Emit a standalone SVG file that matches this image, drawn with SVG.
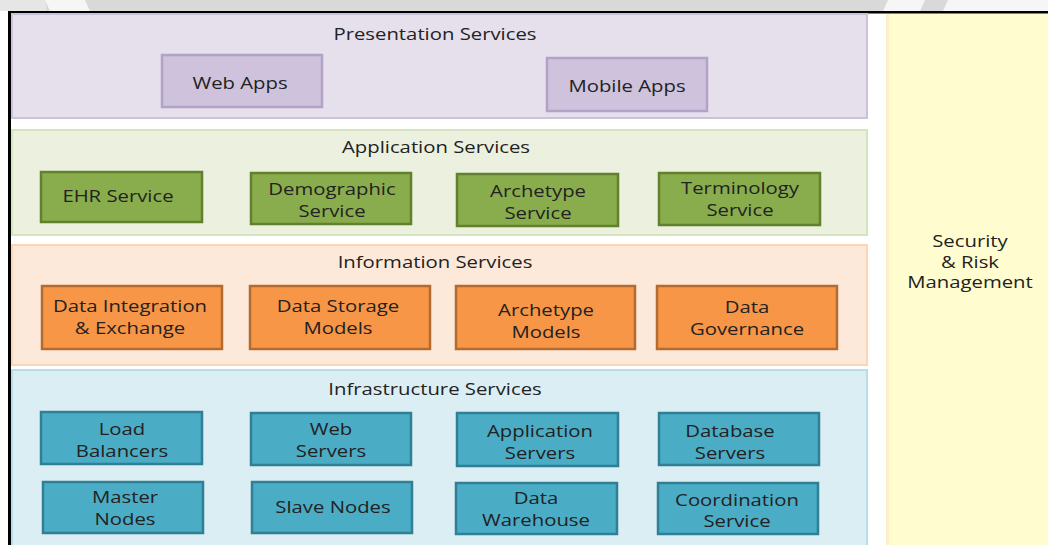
<svg xmlns="http://www.w3.org/2000/svg" width="1048" height="545" viewBox="0 0 1048 545">
<style>
.t{font-family:"Open Sans","Liberation Sans",sans-serif;font-size:16px;fill:#222;text-anchor:middle}
.pres{fill:#e5e0ec;stroke:#cbc2d9;stroke-width:2}
.app{fill:#ebf1de;stroke:#d6e3bf;stroke-width:2}
.info{fill:#fde9d9;stroke:#fbd5b6;stroke-width:2}
.infra{fill:#dbeef4;stroke:#b9dde8;stroke-width:2}
.bp{fill:#cec2dd;stroke:#b2a2c6;stroke-width:2.5}
.bg{fill:#89ad4d;stroke:#62812f;stroke-width:2.5}
.bo{fill:#f79646;stroke:#b46b32;stroke-width:2.5}
.bb{fill:#4bacc6;stroke:#2f7f95;stroke-width:2.5}
</style>
<rect x="0" y="0" width="1048" height="545" fill="#ffffff"/>
<g id="watermark">
<rect x="0" y="0" width="1048" height="11" fill="#d9d9d9"/>
<rect x="0" y="0" width="46" height="11" fill="#e6e6e6"/>
<polygon points="45,0 85,0 90,11 50,11" fill="#f6f6f6"/>
<polygon points="888,0 925,0 920,11 883,11" fill="#f6f6f6"/>
<polygon points="948,0 1048,0 1048,11 943,11" fill="#f6f6f6"/>
</g>
<g id="frame">
<rect x="8" y="11" width="1040" height="2.5" fill="#000"/>
<rect x="8" y="11" width="3" height="534" fill="#000"/>
</g>
<g id="security">
<rect x="886" y="14" width="162" height="531" fill="#fffdcf"/>
<rect x="886" y="14" width="3" height="531" fill="#fdf0c8"/>
<text class="t" transform="translate(970 0) scale(1.27 1)"><tspan x="0" y="247">Security</tspan><tspan x="0" y="268">&amp; Risk</tspan><tspan x="0" y="288">Management</tspan></text>
</g>
<g id="presentation">
<rect class="pres" x="12" y="14" width="855" height="104"/>
<text class="t" transform="translate(435 40) scale(1.27 1)">Presentation Services</text>
</g>
<g id="web-apps">
<rect class="bp" x="162" y="55" width="160" height="52"/>
<text class="t" transform="translate(240 89) scale(1.27 1)">Web Apps</text>
</g>
<g id="mobile-apps">
<rect class="bp" x="547" y="58" width="160" height="53"/>
<text class="t" transform="translate(627 92) scale(1.27 1)">Mobile Apps</text>
</g>
<g id="application">
<rect class="app" x="12" y="130" width="855" height="105"/>
<text class="t" transform="translate(436 153) scale(1.27 1)">Application Services</text>
</g>
<g id="ehr-service">
<rect class="bg" x="41" y="172" width="161" height="50"/>
<text class="t" transform="translate(118 202) scale(1.27 1)">EHR Service</text>
</g>
<g id="demographic-service">
<rect class="bg" x="251" y="173" width="160" height="51"/>
<text class="t" transform="translate(332 0) scale(1.27 1)"><tspan x="0" y="195">Demographic</tspan><tspan x="0" y="217">Service</tspan></text>
</g>
<g id="archetype-service">
<rect class="bg" x="457" y="174" width="161" height="52"/>
<text class="t" transform="translate(538 0) scale(1.27 1)"><tspan x="0" y="197">Archetype</tspan><tspan x="0" y="219">Service</tspan></text>
</g>
<g id="terminology-service">
<rect class="bg" x="659" y="173" width="161" height="52"/>
<text class="t" transform="translate(740 0) scale(1.27 1)"><tspan x="0" y="194">Terminology</tspan><tspan x="0" y="216">Service</tspan></text>
</g>
<g id="information">
<rect class="info" x="12" y="245" width="855" height="120"/>
<text class="t" transform="translate(435 268) scale(1.27 1)">Information Services</text>
</g>
<g id="data-integration">
<rect class="bo" x="42" y="286" width="180" height="63"/>
<text class="t" transform="translate(130 0) scale(1.27 1)"><tspan x="0" y="312">Data Integration</tspan><tspan x="0" y="334">&amp; Exchange</tspan></text>
</g>
<g id="data-storage">
<rect class="bo" x="250" y="286" width="180" height="63"/>
<text class="t" transform="translate(338 0) scale(1.27 1)"><tspan x="0" y="312">Data Storage</tspan><tspan x="0" y="334">Models</tspan></text>
</g>
<g id="archetype-models">
<rect class="bo" x="456" y="286" width="179" height="63"/>
<text class="t" transform="translate(546 0) scale(1.27 1)"><tspan x="0" y="316">Archetype</tspan><tspan x="0" y="338">Models</tspan></text>
</g>
<g id="data-governance">
<rect class="bo" x="657" y="286" width="180" height="63"/>
<text class="t" transform="translate(747 0) scale(1.27 1)"><tspan x="0" y="313">Data</tspan><tspan x="0" y="335">Governance</tspan></text>
</g>
<g id="infrastructure">
<rect class="infra" x="12" y="370" width="855" height="180"/>
<text class="t" transform="translate(435 395) scale(1.27 1)">Infrastructure Services</text>
</g>
<g id="load-balancers">
<rect class="bb" x="41" y="412" width="161" height="52"/>
<text class="t" transform="translate(122 0) scale(1.27 1)"><tspan x="0" y="435">Load</tspan><tspan x="0" y="457">Balancers</tspan></text>
</g>
<g id="web-servers">
<rect class="bb" x="251" y="413" width="160" height="52"/>
<text class="t" transform="translate(331 0) scale(1.27 1)"><tspan x="0" y="435">Web</tspan><tspan x="0" y="457">Servers</tspan></text>
</g>
<g id="application-servers">
<rect class="bb" x="457" y="413" width="161" height="53"/>
<text class="t" transform="translate(540 0) scale(1.27 1)"><tspan x="0" y="437">Application</tspan><tspan x="0" y="459">Servers</tspan></text>
</g>
<g id="database-servers">
<rect class="bb" x="659" y="413" width="160" height="52"/>
<text class="t" transform="translate(730 0) scale(1.27 1)"><tspan x="0" y="437">Database</tspan><tspan x="0" y="459">Servers</tspan></text>
</g>
<g id="master-nodes">
<rect class="bb" x="43" y="482" width="160" height="51"/>
<text class="t" transform="translate(125 0) scale(1.27 1)"><tspan x="0" y="503">Master</tspan><tspan x="0" y="525">Nodes</tspan></text>
</g>
<g id="slave-nodes">
<rect class="bb" x="252" y="482" width="160" height="51"/>
<text class="t" transform="translate(333 513) scale(1.27 1)">Slave Nodes</text>
</g>
<g id="data-warehouse">
<rect class="bb" x="456" y="483" width="161" height="51"/>
<text class="t" transform="translate(536 0) scale(1.27 1)"><tspan x="0" y="504">Data</tspan><tspan x="0" y="526">Warehouse</tspan></text>
</g>
<g id="coordination-service">
<rect class="bb" x="658" y="483" width="160" height="51"/>
<text class="t" transform="translate(737 0) scale(1.27 1)"><tspan x="0" y="506">Coordination</tspan><tspan x="0" y="527">Service</tspan></text>
</g>
<g id="connectors"/>
</svg>
